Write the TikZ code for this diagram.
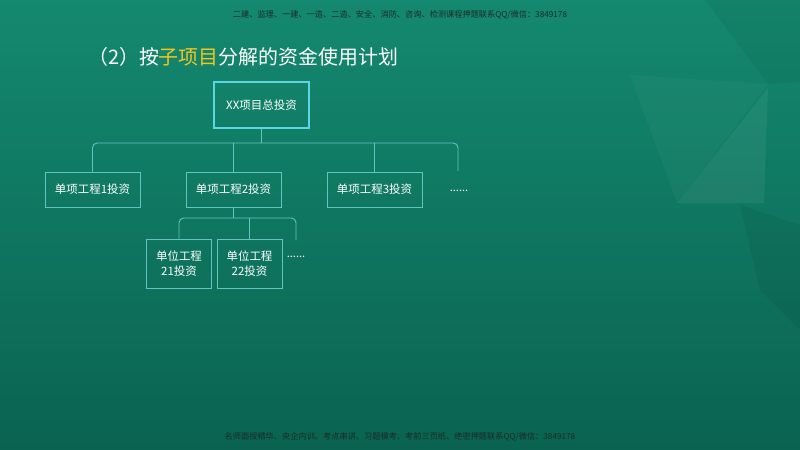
\documentclass[tikz,border=0pt]{standalone}
\usepackage{fontspec}
\setmainfont{Noto Sans CJK SC}
\newfontfamily\latinfont{Noto Sans}
\usetikzlibrary{calc,positioning}
\definecolor{bgtop}{HTML}{14896F}
\definecolor{bgbot}{HTML}{0A6351}
\definecolor{rootline}{HTML}{5CD6E4}
\definecolor{boxline}{HTML}{62C4BE}
\definecolor{hilite}{HTML}{F2C61F}
\definecolor{notetext}{HTML}{1C2B26}
\newcommand\boxfont{\fontsize{9.8}{12.5}\selectfont}

\begin{document}
\begin{tikzpicture}[x=0.03cm,y=-0.03cm]
\tikzset{
  rootbox/.style={draw=rootline,line width=1.6pt,minimum width=2.85cm,minimum height=1.38cm,text=white,font=\boxfont},
  itembox/.style={draw=boxline,line width=0.8pt,minimum width=2.85cm,minimum height=1.05cm,text=white,font=\boxfont},
  unitbox/.style={itembox,minimum width=1.95cm,minimum height=1.47cm,align=center},
  link/.style={draw=boxline,line width=0.8pt},
  more/.style={text=white,inner sep=1pt,font=\latinfont\boxfont},
  note/.style={text=notetext,font=\fontsize{7}{8}\selectfont}
}

% background
\shade[top color=bgtop,bottom color=bgbot] (0,0) rectangle (800,450);
\useasboundingbox (0,0) rectangle (800,450);
\fill[white,opacity=.03] (630,75) -- (768,84) -- (677,203) -- cycle;
\fill[white,opacity=.06] (677,203) -- (768,88) -- (764,203) -- cycle;
\fill[black,opacity=.05] (705,0) -- (800,0) -- (800,82) -- (768,84) -- cycle;
\fill[black,opacity=.06] (740,205) -- (800,225) -- (800,330) -- (760,290) -- cycle;

\node[note] (head) at (400,15) {二建、监理、一建、一造、二造、安全、消防、咨询、检测课程押题联系QQ/微信：3849178};
\node[note] (foot) at (400,437) {名师面授精华、央企内训、考点串讲、习题模考、考前三页纸、绝密押题联系QQ/微信：3849178};
\node[anchor=west,text=white,font=\fontsize{17}{20}\selectfont] (title) at (84,57)
  {（2）按\textcolor{hilite}{子项目}分解的资金使用计划};

% tree
\node[rootbox] (root) at (261.5,105) {XX项目总投资};
\node[itembox] (s1) at (92.5,189.5) {单项工程1投资};
\node[itembox] (s2) at (233.5,189.5) {单项工程2投资};
\node[itembox] (s3) at (374.5,189.5) {单项工程3投资};
\node[more] (s4) at (459,191) {……};
\coordinate (s4top) at (458,171);
\coordinate (bar) at (0,143);

\node[unitbox] (u1) at (179,263.5) {单位工程\\21投资};
\node[unitbox] (u2) at (249.5,263.5) {单位工程\\22投资};
\node[more] (u3) at (296,257) {……};
\coordinate (u3top) at (296,240);
\coordinate (subbar) at (0,218);

\draw[link] (root.south) -- (root.south |- bar);
\draw[link,rounded corners=4pt] (s1.north) |- (s4top |- bar) -- (s4top);
\foreach \n in {s2,s3} \draw[link] (\n.north) -- (\n.north |- bar);
\draw[link] (s2.south) -- (s2.south |- subbar);
\draw[link,rounded corners=4pt] (u1.north) |- (u3top |- subbar) -- (u3top);
\draw[link] (u2.north) -- (u2.north |- subbar);
\end{tikzpicture}
\end{document}
